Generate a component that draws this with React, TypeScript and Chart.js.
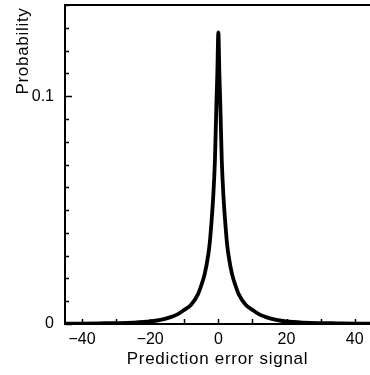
import React, { useEffect, useRef } from "react";
import { Chart, registerables } from "chart.js";

Chart.register(...registerables);

// Prediction error signal values (x) and probability (y)
const errorValues = [
  -45, -40, -35, -30, -25, -20, -17, -14, -12, -10, -8, -6, -5, -4, -3, -2.5, -2, -1.5, -1, -0.6, -0.3, 0,
  0.3, 0.6, 1, 1.5, 2, 2.5, 3, 4, 5, 6, 8, 10, 12, 14, 17, 20, 25, 30, 35, 40, 44.5,
];
const probabilityValues = [
  0.0001, 0.0002, 0.0003, 0.0004, 0.0006, 0.0011, 0.0018, 0.003, 0.0042, 0.0062, 0.0085, 0.013, 0.017, 0.022,
  0.03, 0.036, 0.045, 0.056, 0.072, 0.095, 0.11, 0.128, 0.11, 0.095, 0.072, 0.056, 0.045, 0.036, 0.03, 0.022,
  0.017, 0.013, 0.0085, 0.0062, 0.0042, 0.003, 0.0018, 0.0011, 0.0006, 0.0004, 0.0003, 0.0002, 0.0001,
];

const xTickValues = [-40, -30, -20, -10, 0, 10, 20, 30, 40];
const xLabeledTicks = [-40, -20, 0, 20, 40];
const yTickValues = [0, 0.01, 0.02, 0.03, 0.04, 0.05, 0.06, 0.07, 0.08, 0.09, 0.1, 0.11, 0.12, 0.13, 0.14];
const yLabeledTicks = [0, 0.1];

const xTitle = "Prediction error signal";
const yTitle = "Probability";

const FONT = '"Liberation Sans", Arial, Helvetica, sans-serif';

const fmt = (v: number) => {
  if (Math.abs(v) < 1e-9) return "0";
  const s = Number(v.toFixed(2)).toString();
  return s.replace("-", "\u2212");
};

const decorPlugin = {
  id: "decor",
  afterDraw(chart: any) {
    const { ctx, chartArea, scales } = chart;
    const x = scales.x;
    const y = scales.y;
    ctx.save();
    ctx.strokeStyle = "#000";
    ctx.lineWidth = 1.5;
    // inward y ticks
    yTickValues.forEach((v) => {
      const py = Math.round(y.getPixelForValue(v)) + 0.5;
      const len = yLabeledTicks.some((t) => Math.abs(t - v) < 1e-9) ? 7 : 4;
      ctx.beginPath();
      ctx.moveTo(chartArea.left, py);
      ctx.lineTo(chartArea.left + len, py);
      ctx.stroke();
    });
    // inward x ticks
    xTickValues.forEach((v) => {
      const px = Math.round(x.getPixelForValue(v)) + 0.5;
      ctx.beginPath();
      ctx.moveTo(px, chartArea.bottom);
      ctx.lineTo(px, chartArea.bottom - 5);
      ctx.stroke();
    });
    // top frame
    ctx.lineWidth = 2;
    ctx.beginPath();
    ctx.moveTo(chartArea.left - 1, chartArea.top);
    ctx.lineTo(chartArea.right, chartArea.top);
    ctx.stroke();
    // titles
    ctx.fillStyle = "#000";
    ctx.font = `17px ${FONT}`;
    try {
      (ctx as any).letterSpacing = "0.7px";
    } catch (e) {}
    ctx.textAlign = "center";
    ctx.textBaseline = "alphabetic";
    ctx.fillText(xTitle, (chartArea.left + chartArea.right) / 2, 364);
    ctx.translate(27.5, 51);
    ctx.rotate(-Math.PI / 2);
    ctx.fillText(yTitle, 0, 0);
    ctx.restore();
  },
};

const zeroPad = (scale: any) => {
  scale.paddingTop = 0;
  scale.paddingBottom = 0;
  scale.paddingLeft = 0;
  scale.paddingRight = 0;
};

export default function App() {
  const canvasRef = useRef<HTMLCanvasElement | null>(null);

  useEffect(() => {
    if (!canvasRef.current) return;
    const points = errorValues.map((xv, i) => ({ x: xv, y: probabilityValues[i] }));
    const chart = new Chart(canvasRef.current, {
      type: "line",
      data: {
        datasets: [
          {
            data: points,
            borderColor: "#000",
            backgroundColor: "#000",
            borderWidth: 3.8,
            pointRadius: 0,
            cubicInterpolationMode: "monotone",
            fill: false,
          },
        ],
      },
      options: {
        animation: false,
        responsive: false,
        devicePixelRatio: 1,
        layout: { padding: { top: 5, right: 0, left: 0, bottom: 0 } },
        plugins: {
          legend: { display: false },
          tooltip: { enabled: false },
        },
        scales: {
          x: {
            type: "linear",
            min: -45,
            max: 44.5,
            grid: { display: false },
            border: { display: true, color: "#000", width: 2 },
            afterBuildTicks: (scale: any) => {
              scale.ticks = xTickValues.map((v) => ({ value: v }));
            },
            afterFit: (scale: any) => {
              scale.height = 51;
              zeroPad(scale);
            },
            ticks: {
              autoSkip: false,
              maxRotation: 0,
              padding: -2,
              color: "#000",
              font: { family: FONT, size: 16 },
              callback: (v: any) => (xLabeledTicks.includes(Number(v)) ? fmt(Number(v)) : ""),
            },
          },
          y: {
            type: "linear",
            min: 0,
            max: 0.14,
            grid: { display: false },
            border: { display: true, color: "#000", width: 2 },
            afterBuildTicks: (scale: any) => {
              scale.ticks = yTickValues.map((v) => ({ value: v }));
            },
            afterFit: (scale: any) => {
              scale.width = 65;
              zeroPad(scale);
            },
            ticks: {
              autoSkip: false,
              padding: 3,
              color: "#000",
              font: { family: FONT, size: 16 },
              callback: (v: any) =>
                yLabeledTicks.some((t) => Math.abs(t - Number(v)) < 1e-9) ? fmt(Number(v)) : "",
            },
          },
        },
      },
      plugins: [decorPlugin],
    });
    return () => chart.destroy();
  }, []);

  return (
    <div style={{ position: "absolute", left: 0, top: 0, width: 370, height: 375, background: "#fff" }}>
      <canvas ref={canvasRef} width={370} height={375} style={{ display: "block" }} />
    </div>
  );
}
